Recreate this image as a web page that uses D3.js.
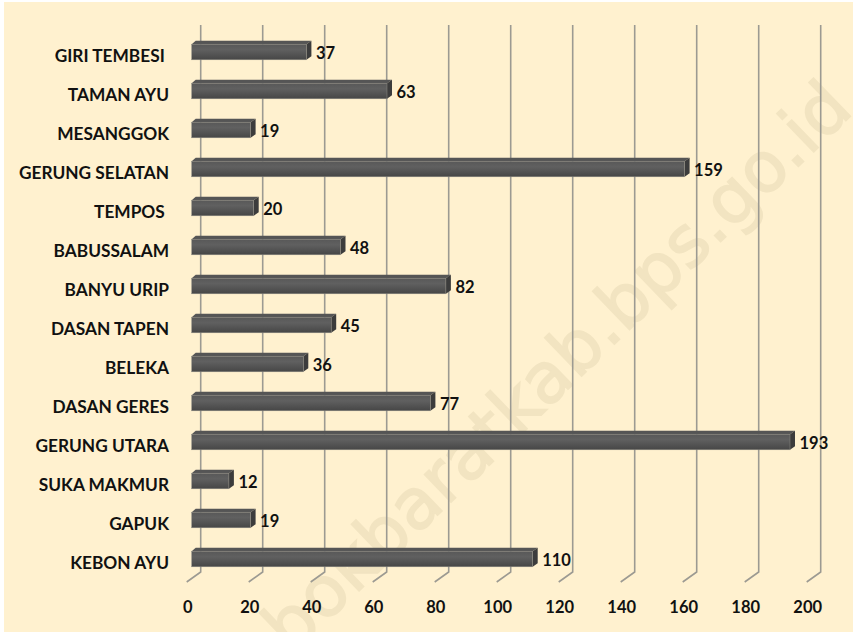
<!DOCTYPE html>
<html>
<head>
<meta charset="utf-8">
<script src="https://cdn.jsdelivr.net/npm/d3@7"></script>
<style>
  html, body { margin: 0; padding: 0; background: #fff; }
  svg { display: block; }
  text { font-family: Lato, "Open Sans", sans-serif; font-weight: 700; fill: #111; white-space: pre; }
</style>
</head>
<body>
<svg id="chart"></svg>
<script>
const categories = ["GIRI TEMBESI ", "TAMAN AYU", "MESANGGOK", "GERUNG SELATAN", "TEMPOS ", "BABUSSALAM",
  "BANYU URIP", "DASAN TAPEN", "BELEKA", "DASAN GERES", "GERUNG UTARA", "SUKA MAKMUR", "GAPUK", "KEBON AYU"];
const values = [37, 63, 19, 159, 20, 48, 82, 45, 36, 77, 193, 12, 19, 110];
const xTicks = [0, 20, 40, 60, 80, 100, 120, 140, 160, 180, 200];

const width = 853;
const height = 632;
const depthX = 9;    // how far the front of the bars sits left of the back wall
const depthTop = 3.5;  // visible height of the bar's top face
const capX = 5;      // visible width of the bar's end cap

const svg = d3.select("#chart").attr("width", width).attr("height", height);

const defs = svg.append("defs");
const grad = defs.append("linearGradient").attr("id", "barFront")
  .attr("x1", 0).attr("y1", 0).attr("x2", 0).attr("y2", 1);
grad.append("stop").attr("offset", "0%").attr("stop-color", "#585858");
grad.append("stop").attr("offset", "35%").attr("stop-color", "#606060");
grad.append("stop").attr("offset", "100%").attr("stop-color", "#464646");

// Panel
svg.append("rect").attr("x", 4).attr("y", 2).attr("width", width - 4).attr("height", height - 2)
  .attr("fill", "#fff1cf");

// Watermark
svg.append("text")
  .attr("transform", "translate(855,112) rotate(-44)")
  .attr("text-anchor", "end")
  .attr("font-size", 70)
  .style("font-family", "'DejaVu Sans', sans-serif")
  .style("font-weight", 400)
  .style("fill", "#f2e4c1")
  .style("stroke", "#f2e4c1")
  .style("stroke-width", 1.5)
  .text("bokbaratkab.bps.go.id");

const x = d3.scaleLinear().domain([0, 200]).range([200.7, 820.7]);
const y = d3.scaleBand().domain(categories).range([32.5, 578.5]).paddingInner(0.6).paddingOuter(0.3);

// Gridlines with the slanted foot of the 3D floor
const grid = svg.append("g");
grid.selectAll("path").data(xTicks).enter().append("path")
  .attr("d", d => d3.line()([[x(d), 25], [x(d), 572], [x(d) - 14, 582]]))
  .attr("fill", "none")
  .attr("stroke", "#9c9a92")
  .attr("stroke-width", 1.6);

// Bars: front, top and end faces
const bars = svg.append("g").selectAll("g").data(categories).enter().append("g");
const barTop = c => y(c);
const barBottom = c => barTop(c) + y.bandwidth();
const barEnd = (c, i) => x(values[i]) - depthX;

bars.append("path")
  .attr("d", (c, i) => d3.line()([
    [x(0) - depthX, barTop(c)],
    [x(0) - depthX + capX - 1, barTop(c) - depthTop],
    [barEnd(c, i) + capX, barTop(c) - depthTop],
    [barEnd(c, i), barTop(c)]]) + "Z")
  .attr("fill", "#555555");

bars.append("path")
  .attr("d", (c, i) => d3.line()([
    [barEnd(c, i), barTop(c)],
    [barEnd(c, i) + capX, barTop(c) - depthTop],
    [barEnd(c, i) + capX, barBottom(c) - depthTop],
    [barEnd(c, i), barBottom(c)]]) + "Z")
  .attr("fill", "#3c3c3c");

bars.append("rect")
  .attr("x", x(0) - depthX)
  .attr("y", barTop)
  .attr("width", (c, i) => barEnd(c, i) - (x(0) - depthX))
  .attr("height", y.bandwidth())
  .attr("fill", "url(#barFront)")
  .attr("stroke", "#8f8d85")
  .attr("stroke-width", 0.5);

// Value labels
bars.append("text")
  .attr("x", (c, i) => barEnd(c, i) + capX + 4.5)
  .attr("y", c => barTop(c) + 10.5)
  .attr("dominant-baseline", "middle")
  .attr("font-size", 16.5)
  .text((c, i) => values[i]);

// Category labels
svg.append("g").selectAll("text").data(categories).enter().append("text")
  .attr("x", 169)
  .attr("y", c => barTop(c) + 13.5)
  .attr("text-anchor", "end")
  .attr("dominant-baseline", "middle")
  .attr("font-size", 17.3)
  .text(c => c);

// X tick labels
svg.append("g").selectAll("text").data(xTicks).enter().append("text")
  .attr("x", d => x(d) - 13)
  .attr("y", 608.5)
  .attr("text-anchor", "middle")
  .attr("dominant-baseline", "middle")
  .attr("font-size", 16.5)
  .text(d => d);
</script>
</body>
</html>
